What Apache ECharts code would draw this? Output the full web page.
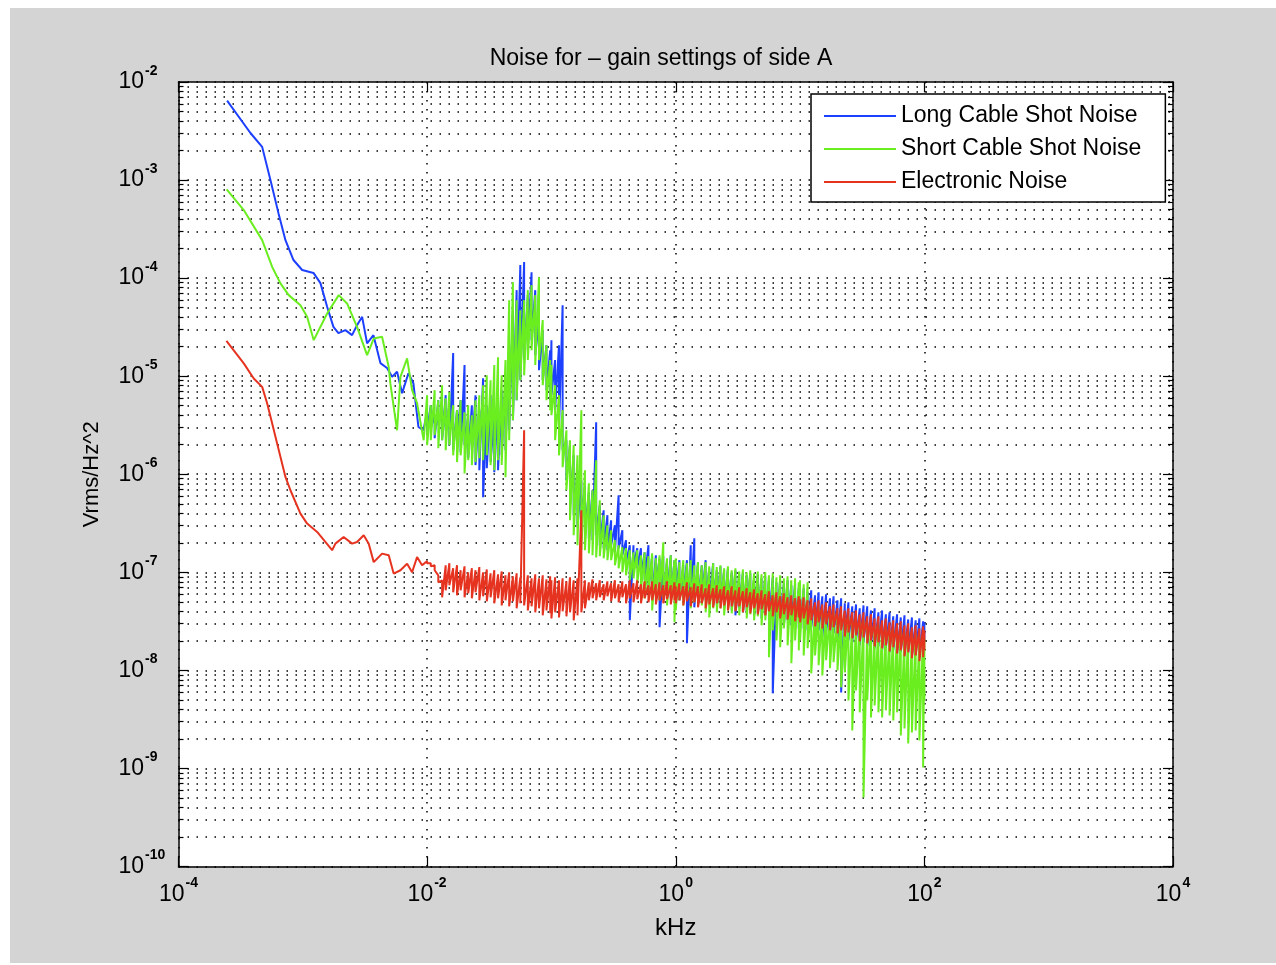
<!DOCTYPE html>
<html><head><meta charset="utf-8">
<script src="https://cdn.jsdelivr.net/npm/echarts@6.0.0/dist/echarts.min.js"></script>
<style>
html,body{margin:0;padding:0;background:#fff;width:1276px;height:965px;overflow:hidden}
#chart{position:absolute;left:10px;top:8px;width:1266px;height:955px}
</style></head><body><div id="chart"></div>
<script>
const seriesNames = ['Long Cable Shot Noise', 'Short Cable Shot Noise', 'Electronic Noise'];
const seriesColors = ['#1d40ff', '#6aee20', '#e63320'];
const xTickValues = [1e-4, 1e-2, 1, 1e2, 1e4];
const yTickValues = [1e-10, 1e-9, 1e-8, 1e-7, 1e-6, 1e-5, 1e-4, 1e-3, 1e-2];

// low-frequency part of each trace: [kHz, Vrms/Hz^2]
const longLow = [[2.46e-4,6.45e-3],[3.79e-4,3.02e-3],[4.71e-4,2.18e-3],[5.49e-4,1.0e-3],[6.37e-4,4.60e-4],[7.25e-4,2.44e-4],[8.41e-4,1.53e-4],[9.88e-4,1.21e-4],[1.218e-3,1.13e-4],[1.386e-3,8.89e-5],[1.569e-3,5.10e-5],[1.763e-3,3.18e-5],[1.934e-3,2.75e-5],[2.20e-3,2.95e-5],[2.49e-3,2.62e-5],[2.73e-3,3.31e-5],[3.0e-3,4.03e-5],[3.29e-3,2.16e-5],[3.70e-3,2.62e-5],[4.21e-3,1.36e-5],[4.76e-3,1.21e-5],[5.23e-3,9.84e-6],[5.73e-3,1.11e-5],[6.29e-3,6.71e-6],[7.07e-3,1.07e-5],[7.75e-3,8.48e-6],[8.51e-3,3.04e-6],[9.33e-3,2.81e-6]];
const shortLow = [[2.44e-4,8.03e-4],[3.35e-4,4.94e-4],[4.71e-4,2.44e-4],[5.67e-4,1.30e-4],[6.61e-4,8.83e-5],[7.70e-4,6.71e-5],[9.57e-4,5.30e-5],[1.083e-3,4.03e-5],[1.224e-3,2.33e-5],[1.569e-3,4.36e-5],[1.945e-3,6.71e-5],[2.27e-3,5.52e-5],[2.73e-3,3.18e-5],[3.29e-3,1.64e-5],[3.72e-3,2.42e-5],[4.34e-3,2.52e-5],[4.91e-3,1.24e-5],[5.06e-3,8.43e-6],[5.73e-3,2.81e-6],[6.10e-3,9.84e-6],[6.90e-3,1.52e-5],[7.57e-3,7.20e-6],[8.30e-3,5.30e-6],[9.38e-3,2.22e-6]];
const elecLow = [[2.43e-4,2.29e-5],[3.35e-4,1.35e-5],[4.03e-4,9.46e-6],[4.71e-4,7.78e-6],[5.17e-4,5.27e-6],[5.67e-4,3.29e-6],[6.41e-4,1.76e-6],[7.25e-4,9.39e-7],[7.95e-4,6.87e-7],[9.57e-4,3.97e-7],[1.083e-3,3.14e-7],[1.304e-3,2.58e-7],[1.721e-3,1.68e-7],[1.829e-3,1.96e-7],[2.13e-3,2.29e-7],[2.49e-3,1.96e-7],[2.73e-3,2.04e-7],[3.09e-3,2.39e-7],[3.39e-3,1.96e-7],[3.72e-3,1.27e-7],[4.34e-3,1.55e-7],[4.91e-3,1.49e-7],[5.38e-3,9.70e-8],[6.10e-3,1.05e-7],[6.90e-3,1.22e-7],[7.57e-3,1.0e-7],[8.30e-3,1.43e-7],[9.11e-3,1.18e-7]];

// noisy part: frequencies (kHz) and the upper / lower readings of each trace
const bandFreq = [0.0100,0.0107,0.0115,0.0123,0.0132,0.0141,0.0151,0.0162,0.0174,0.0186,0.0200,0.0214,0.0229,0.0245,0.0263,0.0282,0.0302,0.0324,0.0347,0.0372,0.0398,0.0427,0.0457,0.0490,0.0525,0.0562,0.0603,0.0646,0.0692,0.0741,0.0794,0.0851,0.0912,0.0977,
0.100,0.107,0.115,0.123,0.132,0.141,0.151,0.162,0.174,0.186,0.200,0.214,0.229,0.245,0.263,0.282,0.302,0.324,0.347,0.372,0.398,0.427,0.457,0.490,0.525,0.562,0.603,0.646,0.692,0.741,0.794,0.851,0.912,0.977,
1.00,1.07,1.15,1.23,1.32,1.41,1.51,1.62,1.74,1.86,2.00,2.14,2.29,2.45,2.63,2.82,3.02,3.24,3.47,3.72,3.98,4.27,4.57,4.90,5.25,5.62,6.03,6.46,6.92,7.41,7.94,8.51,9.12,9.77,
10.0,10.7,11.5,12.3,13.2,14.1,15.1,16.2,17.4,18.6,20.0,21.4,22.9,24.5,26.3,28.2,30.2,32.4,34.7,37.2,39.8,42.7,45.7,49.0,52.5,56.2,60.3,64.6,69.2,74.1,79.4,85.1,91.2,97.7,100];

const longHi = [4.29e-6,5.06e-6,4.0e-6,5.69e-6,4.50e-6,6.40e-6,5.06e-6,1.72e-5,4.50e-6,5.69e-6,
1.30e-5,4.0e-6,5.06e-6,6.40e-6,4.50e-6,9.54e-6,5.06e-6,6.40e-6,4.0e-6,5.69e-6,
7.20e-6,9.10e-6,2.07e-5,4.71e-5,7.54e-5,1.36e-4,1.46e-4,6.71e-5,1.15e-4,7.54e-5,
3.73e-5,2.95e-5,2.07e-5,1.84e-5,2.33e-5,1.46e-5,2.07e-5,5.30e-5,2.22e-6,1.98e-6,
1.56e-6,1.10e-6,8.69e-7,7.72e-7,6.55e-7,6.87e-7,3.39e-6,4.83e-7,4.29e-7,3.82e-7,
3.39e-7,3.02e-7,6.11e-7,2.68e-7,2.12e-7,1.89e-7,1.89e-7,1.76e-7,1.76e-7,1.60e-7,
1.89e-7,1.46e-7,1.49e-7,1.39e-7,1.46e-7,1.33e-7,1.49e-7,1.33e-7,1.27e-7,1.33e-7,
1.18e-7,1.33e-7,1.89e-7,2.22e-7,1.27e-7,1.18e-7,1.33e-7,1.10e-7,1.24e-7,1.05e-7,
1.15e-7,1.05e-7,1.10e-7,1.0e-7,1.05e-7,9.54e-8,1.0e-7,9.32e-8,9.77e-8,8.69e-8,
9.54e-8,8.69e-8,9.10e-8,8.29e-8,8.89e-8,7.91e-8,8.29e-8,7.72e-8,8.29e-8,7.37e-8,
7.72e-8,6.87e-8,6.55e-8,6.87e-8,6.25e-8,6.55e-8,5.83e-8,6.25e-8,5.69e-8,5.96e-8,
5.43e-8,5.69e-8,5.18e-8,5.43e-8,4.83e-8,4.94e-8,4.50e-8,4.71e-8,4.29e-8,4.60e-8,
4.50e-8,4.09e-8,4.29e-8,3.91e-8,4.09e-8,3.73e-8,3.91e-8,3.56e-8,3.73e-8,3.47e-8,
3.64e-8,3.31e-8,3.47e-8,3.24e-8,3.39e-8,3.16e-8,3.09e-8];
const longLo = [2.68e-6,2.95e-6,2.33e-6,3.16e-6,2.22e-6,2.81e-6,1.98e-6,1.76e-6,2.22e-6,1.68e-6,
1.98e-6,1.46e-6,1.76e-6,1.24e-6,1.10e-6,5.83e-7,1.15e-6,1.33e-6,1.05e-6,1.10e-6,
1.56e-6,1.76e-6,2.81e-6,3.56e-6,5.69e-6,9.10e-6,1.46e-5,1.84e-5,2.33e-5,1.64e-5,
1.15e-5,9.10e-6,7.20e-6,5.69e-6,6.40e-6,4.50e-6,2.81e-6,1.76e-6,8.69e-7,4.83e-7,
3.82e-7,2.88e-7,3.39e-7,2.68e-7,2.22e-7,2.12e-7,2.39e-7,1.89e-7,1.76e-7,1.68e-7,
1.89e-7,1.60e-7,1.76e-7,1.49e-7,1.27e-7,3.24e-8,1.18e-7,1.10e-7,9.32e-8,8.29e-8,
6.55e-8,5.18e-8,7.37e-8,2.75e-8,5.18e-8,5.83e-8,5.43e-8,6.55e-8,5.83e-8,5.18e-8,
5.43e-8,1.89e-8,4.60e-8,4.39e-8,5.18e-8,5.43e-8,5.18e-8,4.94e-8,5.18e-8,4.60e-8,
4.83e-8,4.29e-8,4.71e-8,4.09e-8,3.64e-8,4.29e-8,3.91e-8,3.91e-8,4.09e-8,3.64e-8,
3.91e-8,3.39e-8,3.64e-8,3.24e-8,5.83e-9,3.09e-8,3.39e-8,2.88e-8,3.24e-8,2.88e-8,
3.09e-8,2.68e-8,2.88e-8,2.68e-8,2.56e-8,2.75e-8,2.44e-8,2.56e-8,2.17e-8,2.44e-8,
2.28e-8,2.39e-8,2.02e-8,5.96e-9,2.12e-8,2.02e-8,1.93e-8,2.02e-8,1.80e-8,1.93e-8,
1.76e-8,1.80e-8,1.68e-8,1.76e-8,1.60e-8,1.68e-8,1.53e-8,1.60e-8,1.46e-8,1.53e-8,
1.42e-8,1.49e-8,1.39e-8,1.42e-8,1.33e-8,1.39e-8,2.02e-8];

const shortHi = [6.40e-6,5.06e-6,7.20e-6,5.69e-6,8.09e-6,5.96e-6,6.87e-6,5.06e-6,4.50e-6,5.69e-6,
4.29e-6,5.06e-6,4.0e-6,5.69e-6,6.40e-6,8.09e-6,1.02e-5,9.10e-6,1.30e-5,1.56e-5,
1.02e-5,1.46e-5,5.96e-5,9.10e-5,5.96e-5,4.71e-5,5.96e-5,7.54e-5,8.48e-5,6.71e-5,
1.02e-4,3.73e-5,2.07e-5,1.46e-5,1.30e-5,8.09e-6,6.40e-6,4.50e-6,2.81e-6,2.22e-6,
1.98e-6,1.56e-6,4.50e-6,1.10e-6,8.09e-7,6.87e-7,1.39e-6,5.43e-7,3.82e-7,3.02e-7,
2.68e-7,2.12e-7,1.89e-7,1.80e-7,1.76e-7,1.68e-7,1.60e-7,1.68e-7,1.49e-7,1.60e-7,
1.46e-7,1.56e-7,1.39e-7,1.49e-7,2.02e-7,1.39e-7,1.49e-7,1.33e-7,1.39e-7,1.27e-7,
1.33e-7,1.24e-7,1.33e-7,1.18e-7,1.27e-7,1.18e-7,1.27e-7,1.15e-7,1.24e-7,1.13e-7,
1.18e-7,1.10e-7,1.15e-7,1.05e-7,1.10e-7,1.02e-7,1.07e-7,1.0e-7,1.05e-7,9.77e-8,
1.02e-7,9.54e-8,1.0e-7,9.32e-8,9.77e-8,8.89e-8,9.32e-8,8.69e-8,9.10e-8,8.29e-8,
8.69e-8,7.91e-8,8.29e-8,7.54e-8,7.91e-8,4.50e-8,4.09e-8,4.29e-8,3.91e-8,4.09e-8,
3.73e-8,3.91e-8,3.56e-8,3.73e-8,3.39e-8,3.56e-8,3.24e-8,3.39e-8,3.09e-8,3.24e-8,
2.95e-8,3.09e-8,2.81e-8,2.95e-8,2.68e-8,2.81e-8,2.56e-8,2.68e-8,2.50e-8,2.62e-8,
2.39e-8,2.50e-8,2.28e-8,2.39e-8,2.22e-8,2.33e-8,2.12e-8];
const shortLo = [1.98e-6,2.22e-6,2.50e-6,1.84e-6,2.22e-6,1.76e-6,1.98e-6,1.56e-6,1.33e-6,1.56e-6,
1.02e-6,1.39e-6,1.24e-6,1.33e-6,1.46e-6,1.39e-6,1.56e-6,1.24e-6,1.10e-6,1.39e-6,
1.24e-6,9.32e-7,2.22e-6,3.56e-6,5.69e-6,9.10e-6,1.02e-5,1.46e-5,1.84e-5,1.30e-5,
1.46e-5,8.09e-6,5.69e-6,4.50e-6,4.0e-6,2.22e-6,1.56e-6,1.18e-6,6.87e-7,3.39e-7,
2.39e-7,1.89e-7,1.68e-7,1.68e-7,1.56e-7,1.49e-7,1.42e-7,1.46e-7,1.39e-7,1.33e-7,
1.33e-7,1.18e-7,1.10e-7,1.0e-7,9.32e-8,8.29e-8,8.69e-8,7.72e-8,6.55e-8,5.43e-8,
6.25e-8,4.09e-8,5.83e-8,5.18e-8,5.43e-8,4.60e-8,5.18e-8,3.09e-8,4.09e-8,5.18e-8,
4.60e-8,5.18e-8,4.29e-8,4.94e-8,4.50e-8,4.60e-8,3.91e-8,3.47e-8,4.29e-8,3.91e-8,
4.29e-8,3.64e-8,4.09e-8,3.82e-8,4.09e-8,3.64e-8,3.91e-8,3.39e-8,3.73e-8,3.24e-8,
3.56e-8,2.88e-8,3.24e-8,1.36e-8,2.56e-8,2.02e-8,1.72e-8,2.68e-8,1.80e-8,1.18e-8,
2.02e-8,1.60e-8,2.02e-8,1.42e-8,1.68e-8,9.32e-9,1.42e-8,1.13e-8,8.89e-9,1.27e-8,
1.05e-8,1.21e-8,1.0e-8,6.71e-9,9.54e-9,4.94e-9,2.44e-9,6.25e-9,3.73e-9,5.06e-10,
4.94e-9,3.31e-9,4.39e-9,3.73e-9,3.31e-9,3.91e-9,3.47e-9,3.09e-9,3.73e-9,2.17e-9,
2.56e-9,1.80e-9,2.33e-9,2.44e-9,1.93e-9,1.02e-9,4.94e-9];

const elecHi = [1.30e-7,1.24e-7,1.18e-7,9.32e-8,8.29e-8,1.18e-7,1.24e-7,1.10e-7,1.18e-7,1.05e-7,
1.15e-7,1.0e-7,1.10e-7,1.05e-7,1.13e-7,1.0e-7,1.07e-7,9.77e-8,1.05e-7,9.54e-8,
1.02e-7,9.32e-8,1.0e-7,9.10e-8,9.77e-8,8.89e-8,2.81e-6,9.32e-8,8.69e-8,9.54e-8,
8.69e-8,9.32e-8,8.48e-8,9.10e-8,8.29e-8,8.89e-8,8.29e-8,8.69e-8,8.09e-8,8.89e-8,
8.29e-8,8.69e-8,4.29e-7,8.29e-8,7.91e-8,8.48e-8,7.72e-8,8.29e-8,7.54e-8,8.09e-8,
7.72e-8,8.29e-8,7.54e-8,8.09e-8,7.54e-8,8.29e-8,7.72e-8,8.29e-8,7.54e-8,8.09e-8,
7.37e-8,8.09e-8,7.54e-8,7.91e-8,7.37e-8,8.09e-8,7.37e-8,7.91e-8,7.20e-8,7.72e-8,
7.20e-8,7.91e-8,7.03e-8,7.72e-8,7.20e-8,7.54e-8,6.87e-8,7.54e-8,6.87e-8,7.37e-8,
6.71e-8,7.20e-8,6.55e-8,7.20e-8,6.55e-8,7.03e-8,6.40e-8,6.87e-8,6.25e-8,6.71e-8,
6.11e-8,6.55e-8,5.96e-8,6.40e-8,5.83e-8,6.25e-8,5.69e-8,6.11e-8,5.56e-8,5.83e-8,
5.43e-8,5.69e-8,5.30e-8,5.56e-8,5.18e-8,5.43e-8,4.94e-8,5.18e-8,4.71e-8,4.94e-8,
4.50e-8,4.71e-8,4.29e-8,4.50e-8,4.09e-8,4.29e-8,3.91e-8,4.09e-8,3.73e-8,3.91e-8,
3.56e-8,3.73e-8,3.39e-8,3.56e-8,3.24e-8,3.39e-8,3.09e-8,3.24e-8,3.02e-8,3.16e-8,
2.88e-8,3.02e-8,2.75e-8,2.88e-8,2.68e-8,2.81e-8,2.56e-8];
const elecLo = [1.24e-7,1.15e-7,1.05e-7,7.91e-8,5.56e-8,6.55e-8,7.37e-8,6.25e-8,5.83e-8,6.55e-8,
5.56e-8,6.11e-8,5.43e-8,6.25e-8,5.18e-8,5.69e-8,5.06e-8,5.56e-8,4.83e-8,5.43e-8,
4.60e-8,5.18e-8,4.50e-8,5.06e-8,4.29e-8,4.83e-8,4.60e-8,4.09e-8,4.50e-8,3.91e-8,
4.29e-8,3.64e-8,4.09e-8,3.82e-8,3.39e-8,3.91e-8,3.47e-8,4.0e-8,3.56e-8,3.91e-8,
3.24e-8,3.64e-8,3.91e-8,4.29e-8,5.18e-8,5.43e-8,5.18e-8,5.56e-8,5.18e-8,5.69e-8,
5.06e-8,5.43e-8,4.94e-8,5.56e-8,4.83e-8,5.43e-8,4.94e-8,5.30e-8,4.83e-8,5.43e-8,
4.94e-8,5.18e-8,4.71e-8,5.18e-8,4.83e-8,5.30e-8,4.71e-8,5.18e-8,4.83e-8,5.18e-8,
4.60e-8,5.06e-8,4.50e-8,4.94e-8,4.39e-8,4.83e-8,4.29e-8,4.71e-8,4.39e-8,4.83e-8,
4.29e-8,4.60e-8,4.09e-8,4.50e-8,4.0e-8,4.50e-8,3.91e-8,4.39e-8,3.82e-8,4.29e-8,
3.73e-8,4.19e-8,3.64e-8,4.0e-8,3.56e-8,3.91e-8,3.39e-8,3.73e-8,3.31e-8,3.64e-8,
3.16e-8,3.47e-8,3.09e-8,3.39e-8,2.95e-8,3.24e-8,2.81e-8,3.09e-8,2.68e-8,2.95e-8,
2.56e-8,2.75e-8,2.39e-8,2.56e-8,2.22e-8,2.44e-8,2.12e-8,2.28e-8,1.98e-8,2.17e-8,
1.89e-8,2.02e-8,1.76e-8,1.93e-8,1.68e-8,1.80e-8,1.56e-8,1.72e-8,1.49e-8,1.60e-8,
1.39e-8,1.53e-8,1.33e-8,1.42e-8,1.24e-8,1.36e-8,1.60e-8];

const FONT = "'Liberation Sans', Arial, Helvetica, sans-serif";

function buildTrace(low, hi, lo) {
  const pts = low.map(p => [p[0], p[1]]);
  bandFreq.forEach((f, i) => { pts.push([f, hi[i]]); pts.push([f, lo[i]]); });
  return pts;
}
const traces = [
  buildTrace(longLow, longHi, longLo),
  buildTrace(shortLow, shortHi, shortLo),
  buildTrace(elecLow, elecHi, elecLo)
];

function powLabel(v) {
  const e = Math.round(Math.log10(v));
  return '{b|10}{s|' + e + '}';
}
const labelRich = {
  b: { fontFamily: FONT, fontSize: 23, color: '#000', lineHeight: 36 },
  s: { fontFamily: FONT, fontSize: 14, fontWeight: 'bold', color: '#000', lineHeight: 14, verticalAlign: 'top', padding: [0, 0, 0, 1] }
};
const dotted = { color: '#000', width: 1.5, type: [1.5, 7.5] };
const tickStyle = { color: '#000', width: 1.2 };
const frame = { show: true, lineStyle: { color: '#000', width: 1.5 } };

const chart = echarts.init(document.getElementById('chart'), null, { renderer: 'canvas' });
chart.setOption({
  animation: false,
  backgroundColor: '#d4d4d4',
  title: {
    text: 'Noise for \u2013 gain settings of side A',
    left: 651, top: 39, textAlign: 'center', padding: 0,
    textStyle: { fontFamily: FONT, fontSize: 23, fontWeight: 'normal', color: '#000', lineHeight: 23 }
  },
  legend: {
    orient: 'vertical', left: 801, top: 86,
    data: seriesNames.map(n => ({ name: n, icon: 'rect' })),
    itemWidth: 72, itemHeight: 2, itemGap: 9,
    padding: [10, 24, 8, 13],
    backgroundColor: '#fff', borderColor: '#000', borderWidth: 1.5, borderRadius: 0,
    textStyle: { fontFamily: FONT, fontSize: 23, color: '#000', lineHeight: 24 },
    selectedMode: false
  },
  grid: { left: 168.5, top: 74, width: 994.5, height: 784.5, show: true, backgroundColor: '#fff', borderWidth: 0 },
  xAxis: [{
    type: 'log', position: 'bottom', min: 1e-4, max: 1e4,
    axisLine: frame,
    axisTick: { show: true, inside: true, length: 10, lineStyle: tickStyle, customValues: xTickValues },
    axisLabel: { show: true, margin: 10, formatter: powLabel, rich: labelRich, customValues: xTickValues },
    splitLine: { show: true, lineStyle: dotted },
    name: 'kHz', nameLocation: 'middle', nameGap: 50,
    nameTextStyle: { fontFamily: FONT, fontSize: 24, color: '#000' }
  }, {
    type: 'log', position: 'top', min: 1e-4, max: 1e4,
    axisLine: frame,
    axisTick: { show: true, inside: true, length: 10, lineStyle: tickStyle, customValues: xTickValues },
    axisLabel: { show: false },
    splitLine: { show: false }
  }],
  yAxis: [{
    type: 'log', position: 'left', min: 1e-10, max: 1e-2,
    axisLine: frame,
    axisTick: { show: true, inside: true, length: 10, lineStyle: tickStyle, customValues: yTickValues },
    minorTick: { show: true, splitNumber: 9, length: 5, lineStyle: tickStyle },
    axisLabel: { show: true, margin: 60, align: 'left', formatter: powLabel, rich: labelRich, customValues: yTickValues },
    splitLine: { show: true, lineStyle: dotted },
    minorSplitLine: { show: true, lineStyle: dotted },
    name: 'Vrms/Hz^2', nameLocation: 'middle', nameGap: 76,
    nameTextStyle: { fontFamily: FONT, fontSize: 22, color: '#000' }
  }, {
    type: 'log', position: 'right', min: 1e-10, max: 1e-2,
    axisLine: frame,
    axisTick: { show: true, inside: true, length: 10, lineStyle: tickStyle, customValues: yTickValues },
    minorTick: { show: true, splitNumber: 9, length: 5, lineStyle: tickStyle },
    axisLabel: { show: false },
    splitLine: { show: false },
    minorSplitLine: { show: false }
  }],
  series: seriesNames.map((name, k) => ({
    name: name, type: 'line', xAxisIndex: 0, yAxisIndex: 0,
    data: traces[k], symbol: 'none', showSymbol: false, silent: true,
    lineStyle: { color: seriesColors[k], width: 2 },
    itemStyle: { color: seriesColors[k] },
    emphasis: { disabled: true }
  }))
});
</script></body></html>
